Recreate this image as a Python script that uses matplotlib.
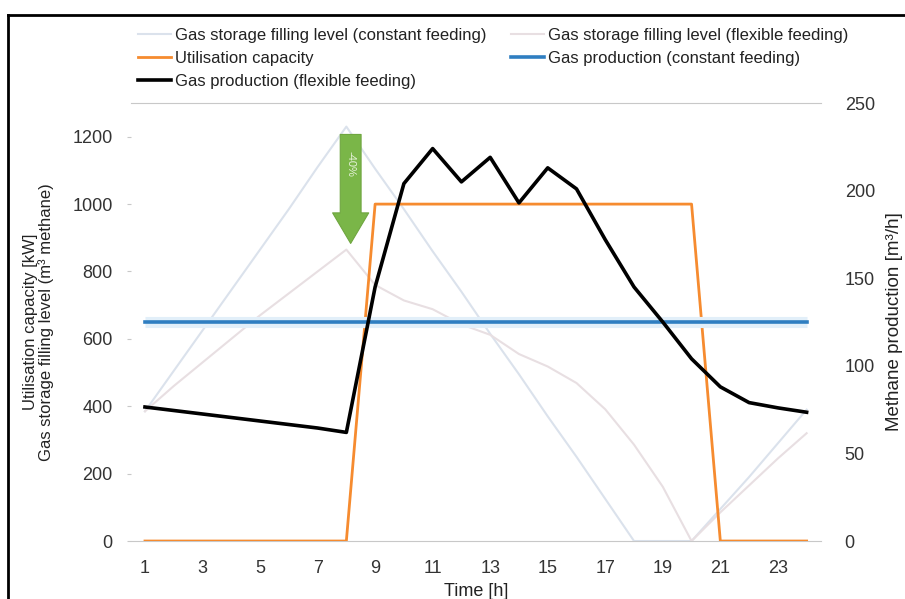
import matplotlib.pyplot as plt
from matplotlib.lines import Line2D

# hours of the day
hours = list(range(1, 25))

# left axis: kW / m3 methane
utilisation = [0, 0, 0, 0, 0, 0, 0, 0, 1000, 1000, 1000, 1000,
               1000, 1000, 1000, 1000, 1000, 1000, 1000, 1000, 0, 0, 0, 0]
storage_constant = [385, 505, 625, 745, 865, 985, 1110, 1230, 1105, 985, 860, 740,
                    615, 495, 370, 250, 125, 0, 0, 0, 95, 190, 290, 390]
storage_flexible = [385, 460, 530, 600, 670, 735, 800, 865, 760, 714, 688, 643,
                    612, 555, 518, 469, 391, 286, 161, 0, 85, 165, 245, 320]

# right axis: m3/h
production_constant = [125] * 24
production_flexible = [76.5, 74.5, 72.5, 70.5, 68.5, 66.5, 64.5, 62, 145, 204, 224, 205,
                       219, 193, 213, 201, 172, 145, 125, 104, 88, 79, 76, 73.5]

plt.rcParams['font.family'] = ['Liberation Sans', 'DejaVu Sans']

fig = plt.figure(figsize=(9.05, 5.99), dpi=100)
ax = fig.add_axes([0.1443, 0.0968, 0.7629, 0.7312])
ax2 = ax.twinx()

ln_sc, = ax.plot(hours, storage_constant, color='#dbe2ec', lw=1.5, zorder=1)
ln_sf, = ax.plot(hours, storage_flexible, color='#e8dfe2', lw=1.5, zorder=1)
ln_ut, = ax.plot(hours, utilisation, color='#f68b2f', lw=2.0, zorder=3)

ax2.plot(hours, production_constant, color='#e2eff9', lw=8, solid_capstyle='butt', zorder=1)
ln_pc, = ax2.plot(hours, production_constant, color='#2f7ec1', lw=2.6, zorder=2)
ln_pf, = ax2.plot(hours, production_flexible, color='black', lw=2.6, zorder=4)

ax.set_xlim(0.5, 24.5)
ax.set_ylim(0, 1300)
ax2.set_ylim(0, 250)
ax.set_yticks(range(0, 1201, 200))
ax2.set_yticks(range(0, 251, 50))
ax.set_xticks(range(1, 24, 2))
ax.set_xticklabels([str(h) for h in range(1, 24, 2)], fontsize=13)

for a in (ax, ax2):
    for s in ('left', 'right'):
        a.spines[s].set_visible(False)
    a.spines['top'].set_color('#c8c8c8')
    a.spines['bottom'].set_color('#c8c8c8')
ax2.spines['top'].set_visible(False)
ax2.spines['bottom'].set_visible(False)

ax.tick_params(axis='y', length=3, color='#c8c8c8', pad=10, labelsize=13, labelcolor='#333333')
ax.tick_params(axis='x', length=0, pad=14, labelcolor='#333333')
ax2.tick_params(axis='y', length=0, pad=17, labelsize=13, labelcolor='#333333')

ax.set_xlabel('Time [h]', fontsize=13, labelpad=4, color='#222222')
ax.set_ylabel('Utilisation capacity [kW]\nGas storage filling level (m³ methane)',
              fontsize=12, labelpad=13, color='#222222', linespacing=1.05)
ax2.set_ylabel('Methane production [m³/h]', fontsize=13.5, labelpad=8, color='#222222')

# green arrow with label
ax.annotate('', xy=(8.15, 875), xytext=(8.15, 1215),
            arrowprops=dict(arrowstyle='simple,head_length=1.1,head_width=1.3,tail_width=0.75',
                            mutation_scale=20, fc='#7ab648', ec='#6fa640', lw=0.8),
            zorder=5)
ax.text(8.15, 1120, '-40%', rotation=-90, ha='center', va='center', fontsize=8,
        color='#e8f3dc', zorder=6)

# legend, row order as in the chart
handles = [ln_sc, ln_ut, ln_pf, ln_sf, ln_pc]
labels = ['Gas storage filling level (constant feeding)', 'Utilisation capacity',
          'Gas production (flexible feeding)', 'Gas storage filling level (flexible feeding)',
          'Gas production (constant feeding)']
fig.legend(handles, labels, ncol=2, loc='upper left', bbox_to_anchor=(0.145, 0.965),
           frameon=False, prop={'size': 12}, handlelength=2.0,
           handletextpad=0.2, columnspacing=1.5, labelspacing=0.48, borderaxespad=0,
           labelcolor='#222222')

# scan frame
fig.add_artist(Line2D([0.0088, 1], [0.975, 0.975], color='black', lw=2, transform=fig.transFigure))
fig.add_artist(Line2D([0.0088, 0.0088], [0, 0.975], color='black', lw=2, transform=fig.transFigure))

fig.savefig('out.png', dpi=100)
